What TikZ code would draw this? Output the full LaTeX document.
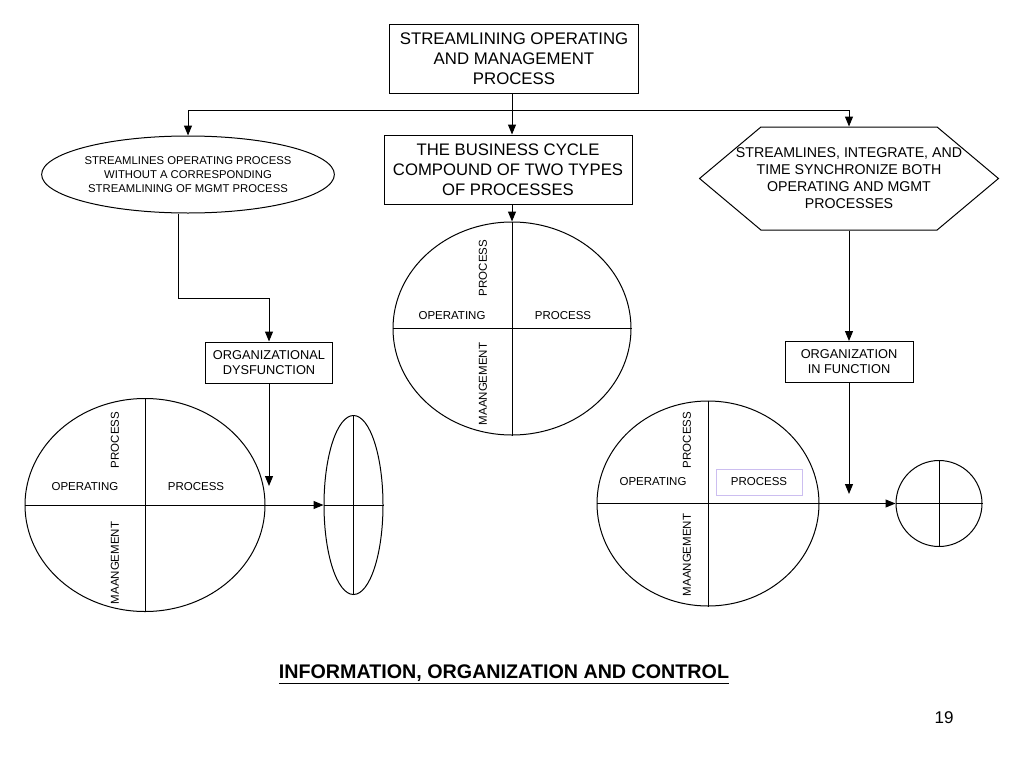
\documentclass[tikz,border=0pt]{standalone}
\usepackage{fontspec}
\setmainfont{Liberation Sans}
\usetikzlibrary{shapes.geometric,shapes.symbols,arrows.meta}
\definecolor{lavender}{RGB}{204,190,240}
\tikzset{
  box/.style={draw,align=center,inner sep=2pt},
  arr/.style={-{Triangle[length=10pt,width=8pt]}},
  ring/.style={draw,ellipse,inner sep=0pt},
  lab/.style={font=\fontsize{11.5}{13}\selectfont,inner sep=0pt},
}

\begin{document}
\begin{tikzpicture}[x=1pt,y=-1pt,line width=1pt]
\fill[white] (0,0) rectangle (1024,768);
\useasboundingbox (0,0) rectangle (1024,768);
% boxes on top
\node[box,minimum width=249pt,minimum height=68pt,font=\fontsize{16.8}{20}\selectfont] (top) at (514,59) {STREAMLINING OPERATING\\AND MANAGEMENT\\PROCESS};
\node[box,minimum width=248pt,minimum height=69pt,font=\fontsize{16.7}{20}\selectfont] (cycle) at (508,169.5) {THE BUSINESS CYCLE\\COMPOUND OF TWO TYPES\\OF PROCESSES};
\node[ring,minimum width=274pt,minimum height=77pt,align=center,font=\fontsize{11.3}{14}\selectfont] (opsonly) at (188,174.5) {STREAMLINES OPERATING PROCESS\\WITHOUT A CORRESPONDING\\STREAMLINING OF MGMT PROCESS};
\node[draw,signal,signal to=west and east,signal from=nowhere,signal pointer angle=80,minimum height=103pt,inner ysep=0pt,inner xsep=-25pt,align=center,font=\fontsize{14.2}{17}\selectfont] (synch) at (849,178.5) {STREAMLINES, INTEGRATE, AND\\TIME SYNCHRONIZE BOTH\\OPERATING AND MGMT\\PROCESSES};
\node[box,minimum width=127pt,minimum height=41pt,font=\fontsize{12.8}{15}\selectfont] (dysf) at (269,362.5) {ORGANIZATIONAL\\DYSFUNCTION};
\node[box,minimum width=128pt,minimum height=41pt,font=\fontsize{12.8}{15}\selectfont] (inf) at (849,362) {ORGANIZATION\\IN FUNCTION};
% branching from the top box
\coordinate (jc) at (512,110);
\coordinate (jl) at (188,110);
\coordinate (jr) at (849,110);
\draw (top.south -| jc) -- (jc);
\draw (jl) -- (jr);
\draw[arr] (jc) -- (jc |- cycle.north);
\draw[arr] (jl) -- (opsonly.north);
\draw[arr] (jr) -- (synch.north);
% middle circle
\node[ring,minimum width=238pt,minimum height=213pt] (opm) at (512,328.5) {};
\draw[arr] (cycle.south -| opm.north) -- (opm.north);
\draw (opm.west) -- (opm.east);
\draw (opm.north) -- (opm.south);
\node[lab,rotate=90] at (483,268) {PROCESS};
\node[lab] at (452,316) {OPERATING};
\node[lab] at (563,316) {PROCESS};
\node[lab,rotate=90] at (483,384) {MAANGEMENT};
% left side
\coordinate (bend) at (178,298);
\draw[arr] (opsonly.south -| bend) -- (bend) -| (dysf.north);
\node[ring,minimum width=240pt,minimum height=213pt] (opl) at (145,505) {};
\node[ring,minimum width=59pt,minimum height=179pt] (endl) at (353.5,505) {};
\draw (opl.west) -- (opl.east);
\draw (opl.north) -- (opl.south);
\draw[arr] (opl.east) -- (endl.west);
\draw (endl.west) -- (endl.east);
\draw (endl.north) -- (endl.south);
\draw[arr] (dysf.south) -- (dysf.south |- 0,486);
\node[lab,rotate=90] at (115,440) {PROCESS};
\node[lab] at (85,487) {OPERATING};
\node[lab] at (196,487) {PROCESS};
\node[lab,rotate=90] at (115,563) {MAANGEMENT};
% right side
\draw[arr] (synch.south) -- (inf.north);
\node[ring,minimum width=222pt,minimum height=205pt] (opr) at (708,503.5) {};
\node[draw,circle,minimum size=86pt,inner sep=0pt] (endr) at (939,503.5) {};
\draw (opr.west) -- (opr.east);
\draw (opr.north) -- (opr.south);
\draw[arr] (opr.east) -- (endr.west);
\draw (endr.west) -- (endr.east);
\draw (endr.north) -- (endr.south);
\draw[arr] (inf.south) -- (inf.south |- 0,494);
\node[lab,rotate=90] at (687,440) {PROCESS};
\node[lab] at (653,482) {OPERATING};
\node[lab,draw=lavender,minimum width=86pt,minimum height=26pt] at (759,482) {PROCESS};
\node[lab,rotate=90] at (687,555) {MAANGEMENT};
% footer
\node[font=\fontsize{19.7}{22}\selectfont\bfseries] (title) at (504,674) {\underline{INFORMATION, ORGANIZATION AND CONTROL}};
\node[font=\fontsize{17}{19}\selectfont] (pnum) at (944,718) {19};
\end{tikzpicture}
\end{document}
